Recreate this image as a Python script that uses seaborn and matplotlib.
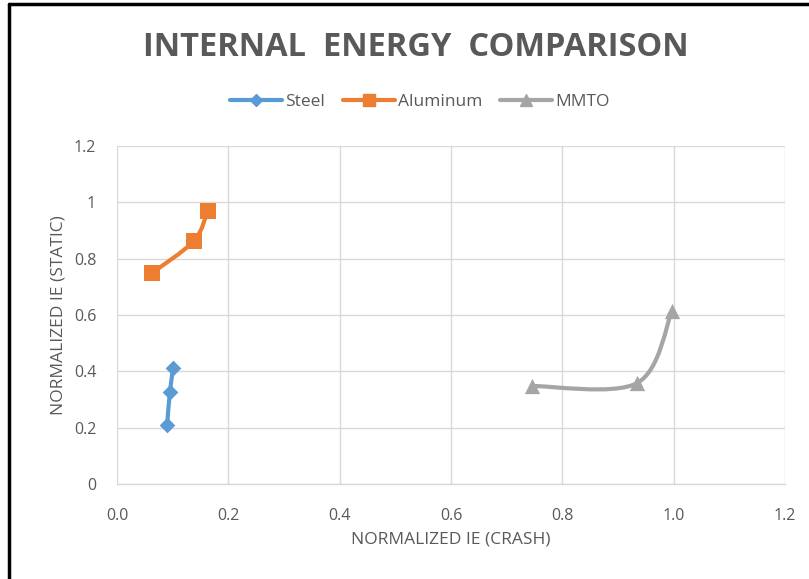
import numpy as np
import pandas as pd
import matplotlib
matplotlib.use("Agg")
import matplotlib.pyplot as plt
import seaborn as sns
from matplotlib.path import Path
from matplotlib.patches import PathPatch
from matplotlib.lines import Line2D

# ---- data ----
steel_x = [0.090, 0.095, 0.101]
steel_y = [0.209, 0.327, 0.412]
alu_x = [0.063, 0.138, 0.163]
alu_y = [0.749, 0.863, 0.969]
mmto_x = [0.745, 0.934, 0.997]
mmto_y = [0.348, 0.358, 0.614]
x_ticks = [0.0, 0.2, 0.4, 0.6, 0.8, 1.0, 1.2]
y_ticks = [0, 0.2, 0.4, 0.6, 0.8, 1.0, 1.2]
y_tick_labels = ["0", "0.2", "0.4", "0.6", "0.8", "1", "1.2"]

series = [
    ("Steel", steel_x, steel_y, "#5B9BD5", "D", 8),
    ("Aluminum", alu_x, alu_y, "#ED7D31", "s", 11),
    ("MMTO", mmto_x, mmto_y, "#A5A5A5", "^", 11),
]

sns.set_theme(style="white")
plt.rcParams["font.family"] = ["Open Sans", "DejaVu Sans"]
TXT = "#595959"

fig = plt.figure(figsize=(8.09, 5.79), dpi=100)
ax = fig.add_axes([117 / 809, 1 - 484 / 579, (785 - 117) / 809, (484 - 146) / 579])


def smooth_path(xs, ys):
    pts = np.column_stack([xs, ys])
    n = len(pts)
    verts = [pts[0]]
    codes = [Path.MOVETO]
    for i in range(n - 1):
        p0 = pts[i - 1] if i > 0 else pts[i]
        p1 = pts[i]
        p2 = pts[i + 1]
        p3 = pts[i + 2] if i + 2 < n else pts[i + 1]
        c1 = p1 + (p2 - p0) / 6.0
        c2 = p2 - (p3 - p1) / 6.0
        verts += [c1, c2, p2]
        codes += [Path.CURVE4] * 3
    return Path(verts, codes)


handles = []
for name, xs, ys, col, mk, ms in series:
    # smoothed connecting line (Excel-style smooth line)
    ax.add_patch(PathPatch(smooth_path(xs, ys), facecolor="none", edgecolor=col,
                           lw=3.0, capstyle="round", joinstyle="round", zorder=2))
    df = pd.DataFrame({"x": xs, "y": ys})
    sns.scatterplot(data=df, x="x", y="y", ax=ax, color=col, marker=mk,
                    s=ms ** 2, edgecolor=col, linewidth=0, zorder=3, legend=False)
    handles.append(Line2D([0], [0], color=col, lw=3.0, marker=mk,
                          markersize=ms * 0.8, markeredgecolor=col, label=name))

ax.set_xlim(0, 1.2)
ax.set_ylim(0, 1.2)
ax.set_xticks(x_ticks)
ax.set_xticklabels([f"{v:.1f}" for v in x_ticks])
ax.set_yticks(y_ticks)
ax.set_yticklabels(y_tick_labels)
ax.grid(True, color="#D9D9D9", lw=1.0)
ax.set_axisbelow(True)
for s in ["top", "right", "left"]:
    ax.spines[s].set_visible(False)
ax.spines["bottom"].set_color("#D9D9D9")
ax.spines["bottom"].set_linewidth(1.0)
ax.tick_params(axis="both", length=0, labelsize=11.5, labelcolor=TXT)
ax.tick_params(axis="x", pad=17)
ax.tick_params(axis="y", pad=15)

ax.set_xlabel("NORMALIZED IE (CRASH)", fontsize=12.5, color=TXT, labelpad=6)
ax.set_ylabel("NORMALIZED IE (STATIC)", fontsize=12.5, color=TXT, labelpad=5)

fig.text(416 / 809, 1 - 47 / 579, "INTERNAL  ENERGY  COMPARISON", ha="center", va="center",
         fontsize=23.5, fontweight="bold", color=TXT)

fig.legend(handles=handles, loc="center", bbox_to_anchor=(420 / 809, 1 - 102 / 579),
           ncol=3, frameon=False, fontsize=12.5, labelcolor=TXT, handlelength=3.0,
           handletextpad=0.2, columnspacing=1.0)

# black frame of the screenshot (left and top)
fig.add_artist(Line2D([9 / 809, 9 / 809], [0, 1 - 4 / 579], color="black", lw=2.5,
                      transform=fig.transFigure))
fig.add_artist(Line2D([9 / 809, 1], [1 - 4 / 579, 1 - 4 / 579], color="black", lw=2.5,
                      transform=fig.transFigure))

fig.savefig("out.png", dpi=100, facecolor="white")
